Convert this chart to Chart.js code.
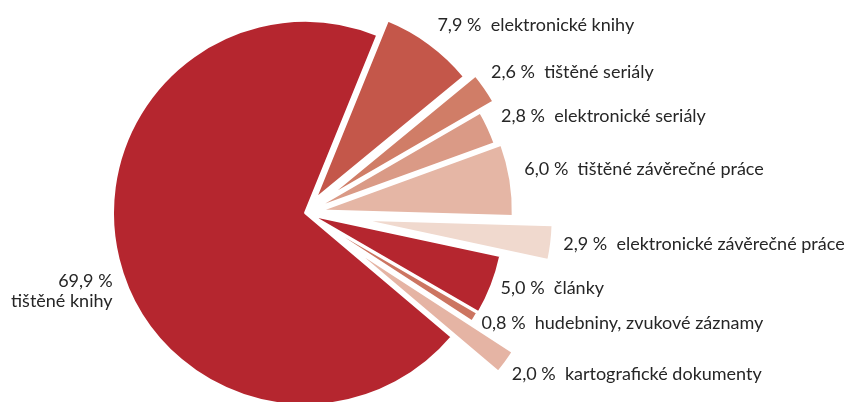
<!DOCTYPE html>
<html>
<head>
<meta charset="utf-8">
<script src="https://cdn.jsdelivr.net/npm/chart.js@4.4.1/dist/chart.umd.min.js"></script>
<style>
  html, body { margin: 0; padding: 0; background: #fff; }
  #wrap { width: 849px; height: 402px; overflow: hidden; }
</style>
</head>
<body>
<div id="wrap"><canvas id="chart" width="849" height="402"></canvas></div>
<script>
// categories and shares (%), clockwise from the top
const categories = [
    'elektronické knihy',
    'tištěné seriály',
    'elektronické seriály',
    'tištěné závěrečné práce',
    'elektronické závěrečné práce',
    'články',
    'hudebniny, zvukové záznamy',
    'kartografické dokumenty',
    'tištěné knihy'
];
const shares = [7.9, 2.6, 2.8, 6.0, 2.9, 5.0, 0.8, 2.0, 69.9];

// styling per slice
const sliceColors = ['#C4574A', '#D07D67', '#DA9A86', '#E5B6A5', '#F0D9CE', '#B5262F', '#CC7561', '#E5B4A4', '#B5262F'];
// how far each slice is pulled out of the pie (px)
const explode = [18, 27, 10, 16, 56, 8, 7, 58, 0];
// label nudge from the outer middle point of each slice
const labelNudge = [[8, -19], [6, -16], [13, -11], [14, -11], [12, 2], [9, 3], [7, 6], [6, 12], [-6, 22]];

function fmt(v)
{
    return v.toFixed(1).replace('.', ',') + ' %';
}

// Chart.js "offset" also grows the radius, so the slices are moved out here instead
const explodeSlices = {
    id: 'explodeSlices',
    afterDatasetUpdate(chart, args) {
        const arcs = chart.getDatasetMeta(args.index).data;
        arcs.forEach((a, i) => {
            const mid = (a.startAngle + a.endAngle) / 2;
            a.x += Math.cos(mid) * explode[i];
            a.y += Math.sin(mid) * explode[i];
        });
    }
};

// draws "x,x %  name" next to each slice
const sliceLabels = {
    id: 'sliceLabels',
    afterDatasetsDraw(chart) {
        const ctx = chart.ctx;
        const arcs = chart.getDatasetMeta(0).data;
        ctx.save();
        ctx.font = '18px Lato, "Open Sans", sans-serif';
        ctx.fillStyle = '#262626';
        ctx.textBaseline = 'middle';
        for (let i = 0; i < arcs.length; i++)
        {
            const a = arcs[i];
            const mid = (a.startAngle + a.endAngle) / 2;
            const px = a.x + Math.cos(mid) * a.outerRadius + labelNudge[i][0];
            const py = a.y + Math.sin(mid) * a.outerRadius + labelNudge[i][1];
            if (i === arcs.length - 1)
            {
                // the big slice gets its label on two lines, to the left
                ctx.textAlign = 'right';
                ctx.fillText(fmt(shares[i]), px, py);
                ctx.fillText(categories[i], px, py + 20);
            }
            else
            {
                ctx.textAlign = 'left';
                ctx.fillText(fmt(shares[i]) + '  ' + categories[i], px, py);
            }
        }
        ctx.restore();
    }
};

new Chart(document.getElementById('chart'), {
    type: 'pie',
    data: {
        labels: categories,
        datasets: [{
            data: shares,
            backgroundColor: sliceColors,
            borderColor: '#ffffff',
            borderWidth: 2,
            clip: false
        }]
    },
    options: {
        responsive: false,
        animation: false,
        rotation: 22.1,
        radius: 192,
        layout: {
            padding: { left: 0, right: 239, top: 24, bottom: 0 }
        },
        plugins: {
            legend: { display: false },
            tooltip: { enabled: false }
        }
    },
    plugins: [explodeSlices, sliceLabels]
});
</script>
</body>
</html>
